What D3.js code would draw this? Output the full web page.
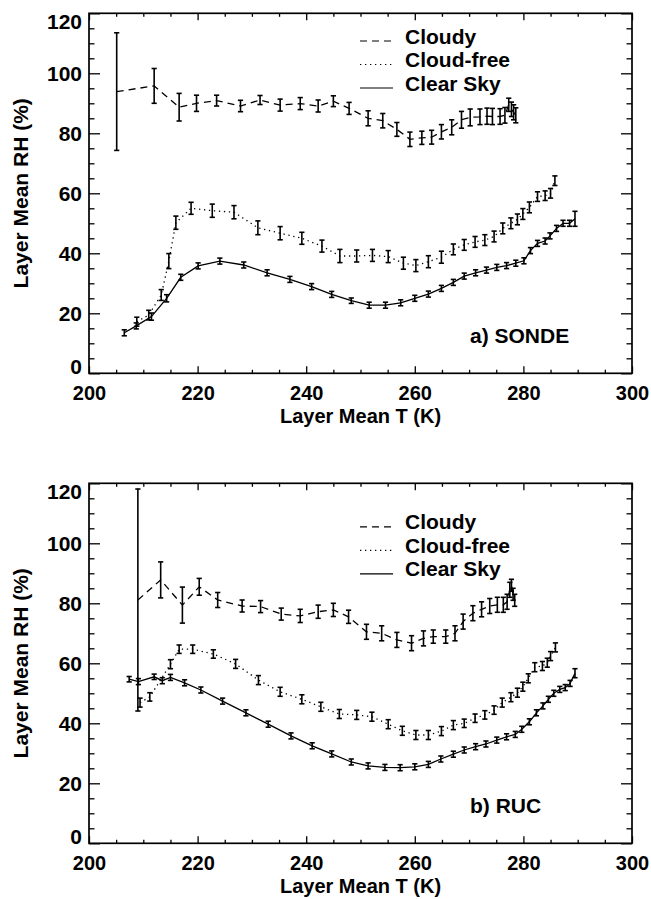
<!DOCTYPE html>
<html>
<head>
<meta charset="utf-8">
<script src="https://cdn.jsdelivr.net/npm/d3@7"></script>
<style>
  body { margin: 0; background: #fff; }
  svg { display: block; }
  text { font-family: "Liberation Sans", Arial, Helvetica, sans-serif; font-weight: bold; fill: #000; }
</style>
</head>
<body>
<svg id="chart" width="651" height="899"></svg>
<script>
'use strict'

// a) SONDE
const sondeCloudyT = [205.1, 212.0, 216.6, 219.8, 223.5, 227.9, 231.5, 235.2, 238.9, 242.2, 245.0, 247.9, 251.4, 254.1, 256.7, 259.1, 261.3, 263.1, 264.9, 266.8, 268.6, 270.2, 272.0, 273.3, 274.3, 275.7, 276.6, 277.3, 277.8, 278.2, 278.6]
const sondeCloudyRH = [93.9, 95.8, 88.7, 90.0, 90.9, 89.1, 91.1, 89.4, 89.9, 89.1, 90.7, 88.3, 85.0, 84.2, 81.3, 78.0, 78.5, 78.7, 80.5, 82.0, 84.5, 85.3, 85.5, 85.7, 85.6, 85.6, 86.0, 89.5, 88.0, 87.0, 86.0]
const sondeCloudyErr = [19.6, 5.8, 4.6, 2.7, 1.8, 1.9, 1.5, 2.0, 2.0, 2.0, 1.8, 2.0, 2.5, 2.4, 2.3, 2.4, 2.2, 2.3, 2.4, 2.5, 2.8, 2.8, 2.6, 2.7, 2.7, 2.6, 2.6, 2.2, 2.4, 2.5, 2.5]

const sondeFreeT = [208.8, 211.0, 213.3, 214.7, 216.0, 218.8, 222.7, 226.7, 231.1, 235.2, 239.2, 242.9, 246.2, 249.3, 252.2, 255.1, 257.9, 260.2, 262.5, 264.9, 267.1, 269.1, 271.1, 272.9, 274.6, 276.2, 277.7, 278.9, 279.9, 281.1, 282.6, 284.0, 285.0, 285.8]
const sondeFreeRH = [17.2, 19.4, 26.1, 37.4, 50.2, 55.0, 54.2, 53.7, 48.5, 46.7, 45.0, 42.4, 39.1, 39.1, 39.3, 38.9, 36.7, 35.9, 37.2, 38.7, 41.3, 42.8, 43.8, 44.4, 45.6, 48.3, 50.0, 51.3, 53.1, 55.3, 58.9, 59.2, 60.0, 64.2]
const sondeFreeErr = [1.5, 1.6, 1.8, 2.5, 2.2, 2.0, 2.2, 2.2, 2.3, 2.2, 2.0, 2.0, 2.2, 2.0, 2.0, 2.0, 2.0, 2.0, 2.0, 2.0, 1.8, 1.8, 1.8, 1.8, 1.8, 1.8, 1.8, 1.8, 1.8, 1.8, 1.6, 1.6, 1.6, 1.6]

const sondeClearT = [206.5, 208.7, 211.5, 214.3, 216.9, 220.1, 224.1, 228.5, 232.8, 237.0, 241.0, 244.7, 248.3, 251.6, 254.6, 257.4, 260.0, 262.5, 264.9, 267.1, 269.1, 271.2, 273.2, 275.1, 276.9, 278.6, 280.1, 281.3, 282.6, 284.0, 284.9, 286.1, 287.3, 288.5, 289.5]
const sondeClearRH = [13.5, 15.8, 18.9, 25.0, 32.0, 35.8, 37.4, 36.1, 33.5, 31.3, 28.9, 26.3, 24.2, 22.7, 22.7, 23.5, 25.0, 26.4, 28.3, 30.3, 32.4, 33.5, 34.4, 35.3, 35.9, 36.7, 37.5, 40.9, 43.3, 44.1, 45.8, 48.3, 50.0, 50.0, 51.5]
const sondeClearErr = [1.0, 1.0, 1.2, 1.2, 1.0, 1.0, 1.0, 1.0, 1.0, 1.0, 1.0, 1.0, 0.9, 1.0, 1.0, 1.0, 1.0, 1.0, 1.0, 1.0, 1.0, 1.0, 1.0, 1.0, 1.0, 1.0, 1.0, 1.0, 1.0, 1.0, 1.0, 1.0, 1.0, 1.0, 2.5]

// b) RUC
const rucCloudyT = [209.0, 213.2, 217.2, 220.3, 223.7, 228.2, 231.6, 235.4, 238.9, 242.2, 245.0, 247.8, 251.1, 253.9, 256.7, 259.4, 261.6, 263.4, 265.7, 267.4, 268.9, 270.7, 272.3, 273.8, 275.2, 276.3, 277.0, 277.5, 277.8, 278.1, 278.4]
const rucCloudyRH = [81.1, 87.8, 79.4, 85.5, 81.1, 79.1, 78.9, 76.4, 75.8, 77.2, 77.8, 75.5, 70.5, 70.0, 67.8, 66.7, 68.3, 68.9, 68.9, 70.0, 73.9, 76.7, 78.0, 79.1, 79.5, 79.5, 80.5, 84.5, 86.0, 83.0, 81.0]
const rucCloudyErr = [37.0, 6.0, 6.0, 2.8, 2.5, 2.0, 2.0, 2.0, 2.2, 2.2, 2.2, 2.2, 2.5, 2.5, 2.5, 2.5, 2.5, 2.2, 2.2, 2.5, 2.5, 2.5, 2.5, 2.5, 2.5, 2.5, 2.5, 2.5, 2.0, 2.0, 2.0]

const rucFreeT = [209.4, 211.2, 215.0, 216.6, 219.1, 222.9, 227.0, 231.2, 235.2, 239.2, 242.7, 246.1, 249.3, 252.1, 255.1, 257.7, 260.2, 262.5, 264.9, 267.1, 269.1, 271.1, 272.9, 274.6, 276.1, 277.7, 278.9, 279.9, 280.9, 282.1, 283.5, 284.4, 285.0, 285.9]
const rucFreeRH = [46.9, 48.8, 59.7, 64.7, 64.7, 63.1, 59.8, 54.4, 50.5, 48.0, 45.5, 43.1, 42.8, 42.2, 39.7, 37.5, 36.1, 36.1, 37.4, 39.4, 40.0, 41.7, 42.8, 44.4, 46.9, 48.7, 50.2, 52.2, 55.0, 58.7, 59.1, 60.2, 62.4, 65.3]
const rucFreeErr = [1.5, 1.4, 1.5, 1.4, 1.4, 1.4, 1.5, 1.5, 1.5, 1.5, 1.5, 1.5, 1.5, 1.5, 1.5, 1.5, 1.5, 1.5, 1.5, 1.5, 1.4, 1.4, 1.4, 1.4, 1.5, 1.5, 1.5, 1.5, 1.5, 1.5, 1.5, 1.5, 1.5, 1.5]

const rucClearT = [207.4, 209.1, 212.0, 213.5, 215.0, 217.6, 220.6, 224.6, 228.9, 233.0, 237.2, 241.1, 244.7, 248.3, 251.4, 254.5, 257.3, 260.0, 262.5, 264.8, 267.1, 269.1, 271.2, 273.1, 275.1, 276.9, 278.5, 279.7, 281.1, 282.4, 283.6, 284.6, 285.6, 286.7, 287.7, 288.6, 289.5]
const rucClearRH = [54.7, 53.9, 55.5, 54.2, 55.3, 53.5, 51.1, 47.4, 43.5, 39.7, 35.8, 32.5, 29.8, 27.1, 25.8, 25.3, 25.2, 25.5, 26.3, 28.1, 29.7, 31.1, 32.2, 33.1, 34.4, 35.5, 36.3, 38.0, 40.5, 43.5, 45.8, 48.0, 50.0, 51.3, 51.9, 53.3, 56.7]
const rucClearErr = [0.9, 1.0, 0.9, 1.0, 1.0, 1.0, 1.0, 1.0, 1.0, 1.0, 1.0, 1.0, 1.0, 1.0, 1.0, 1.0, 1.0, 1.0, 1.0, 1.0, 1.0, 1.0, 1.0, 1.0, 1.0, 1.0, 1.0, 1.0, 1.0, 1.0, 1.0, 1.0, 1.0, 1.0, 1.0, 1.0, 1.5]

const legendLabels = ['Cloudy', 'Cloud-free', 'Clear Sky']
const xMajor = [200, 220, 240, 260, 280, 300]
const yMajor = [0, 20, 40, 60, 80, 100, 120]

const dashes = ['7,5', '1.3,3.7', null]

const svg = d3.select('#chart')
const left = 89, right = 632, plotH = 360

const x = d3.scaleLinear().domain([200, 300]).range([left, right])

function zip (t, rh, err) {
  return t.map((d, i) => ({ t: d, rh: rh[i], err: err[i] }))
}

function drawPanel (top, series, label, legendTop) {
  const y = d3.scaleLinear().domain([0, 120]).range([top + plotH, top])
  const g = svg.append('g')

  const minorX = d3.range(200, 301, 5).filter(v => v % 20 !== 0)
  const minorY = d3.range(0, 121, 5).filter(v => v % 20 !== 0)

  // bottom axis with labels
  g.append('g')
    .attr('transform', 'translate(0,' + (top + plotH) + ')')
    .call(d3.axisBottom(x).tickValues(xMajor).tickSize(-7).tickPadding(13).tickFormat(d3.format('d')))
    .call(a => a.select('.domain').remove())
    .selectAll('text').style('font-size', '20px')
  g.append('g')
    .attr('transform', 'translate(0,' + (top + plotH) + ')')
    .call(d3.axisBottom(x).tickValues(minorX).tickSize(-3.5).tickFormat(''))
    .call(a => a.select('.domain').remove())
  // top axis
  g.append('g')
    .attr('transform', 'translate(0,' + top + ')')
    .call(d3.axisTop(x).tickValues(xMajor).tickSize(-7).tickFormat(''))
    .call(a => a.select('.domain').remove())
  g.append('g')
    .attr('transform', 'translate(0,' + top + ')')
    .call(d3.axisTop(x).tickValues(minorX).tickSize(-3.5).tickFormat(''))
    .call(a => a.select('.domain').remove())

  // left axis
  const ly = g.append('g')
    .attr('transform', 'translate(' + left + ',0)')
    .call(d3.axisLeft(y).tickValues(yMajor).tickSize(-11).tickPadding(7).tickFormat(d3.format('d')))
    .call(a => a.select('.domain').remove())
  ly.selectAll('text').style('font-size', '21px')
    .attr('dy', d => d === 120 ? '0.71em' : (d === 0 ? '0em' : '0.35em'))
  g.append('g')
    .attr('transform', 'translate(' + left + ',0)')
    .call(d3.axisLeft(y).tickValues(minorY).tickSize(-5.5).tickFormat(''))
    .call(a => a.select('.domain').remove())
  // right axis
  g.append('g')
    .attr('transform', 'translate(' + right + ',0)')
    .call(d3.axisRight(y).tickValues(yMajor).tickSize(-11).tickFormat(''))
    .call(a => a.select('.domain').remove())
  g.append('g')
    .attr('transform', 'translate(' + right + ',0)')
    .call(d3.axisRight(y).tickValues(minorY).tickSize(-5.5).tickFormat(''))
    .call(a => a.select('.domain').remove())

  g.selectAll('.tick line').attr('stroke', '#000').attr('stroke-width', 1.3)

  g.append('rect')
    .attr('x', left).attr('y', top)
    .attr('width', right - left).attr('height', plotH)
    .attr('fill', 'none').attr('stroke', '#000').attr('stroke-width', 1.7)

  // axis titles
  g.append('text')
    .attr('text-anchor', 'middle')
    .attr('transform', 'translate(28,' + (top + plotH / 2) + ')rotate(-90)')
    .style('font-size', '21px')
    .text('Layer Mean RH (%)')
  g.append('text')
    .attr('text-anchor', 'middle')
    .attr('x', (left + right) / 2)
    .attr('y', top + plotH + 50)
    .style('font-size', '20px')
    .text('Layer Mean T (K)')

  const line = d3.line().x(d => x(d.t)).y(d => y(d.rh))

  series.forEach((s, i) => {
    g.append('path')
      .datum(s)
      .attr('d', line)
      .attr('fill', 'none')
      .attr('stroke', '#000')
      .attr('stroke-width', 1.3)
      .attr('stroke-dasharray', dashes[i])

    const bars = g.append('g').selectAll('g')
      .data(s)
      .enter().append('g')
      .attr('stroke', '#000')
      .attr('stroke-width', 1.6)
    bars.append('line')
      .attr('x1', d => x(d.t)).attr('x2', d => x(d.t))
      .attr('y1', d => y(d.rh - d.err)).attr('y2', d => y(d.rh + d.err))
    bars.append('line')
      .attr('x1', d => x(d.t) - 2.6).attr('x2', d => x(d.t) + 2.6)
      .attr('y1', d => y(d.rh - d.err)).attr('y2', d => y(d.rh - d.err))
    bars.append('line')
      .attr('x1', d => x(d.t) - 2.6).attr('x2', d => x(d.t) + 2.6)
      .attr('y1', d => y(d.rh + d.err)).attr('y2', d => y(d.rh + d.err))
  })

  // legend
  legendLabels.forEach((lab, i) => {
    const by = legendTop + i * 23.5
    g.append('line')
      .attr('x1', 360).attr('x2', 393)
      .attr('y1', by - 2.5).attr('y2', by - 2.5)
      .attr('stroke', '#000').attr('stroke-width', 1.2)
      .attr('stroke-dasharray', dashes[i])
    g.append('text')
      .attr('x', 405).attr('y', by)
      .style('font-size', '21px')
      .text(lab)
  })

  g.append('text')
    .attr('x', 470).attr('y', top + plotH - 30)
    .style('font-size', '21px')
    .text(label)
}

drawPanel(13.3, [
  zip(sondeCloudyT, sondeCloudyRH, sondeCloudyErr),
  zip(sondeFreeT, sondeFreeRH, sondeFreeErr),
  zip(sondeClearT, sondeClearRH, sondeClearErr)
], 'a) SONDE', 43.5)

drawPanel(483.3, [
  zip(rucCloudyT, rucCloudyRH, rucCloudyErr),
  zip(rucFreeT, rucFreeRH, rucFreeErr),
  zip(rucClearT, rucClearRH, rucClearErr)
], 'b) RUC', 529.3)
</script>
</body>
</html>
